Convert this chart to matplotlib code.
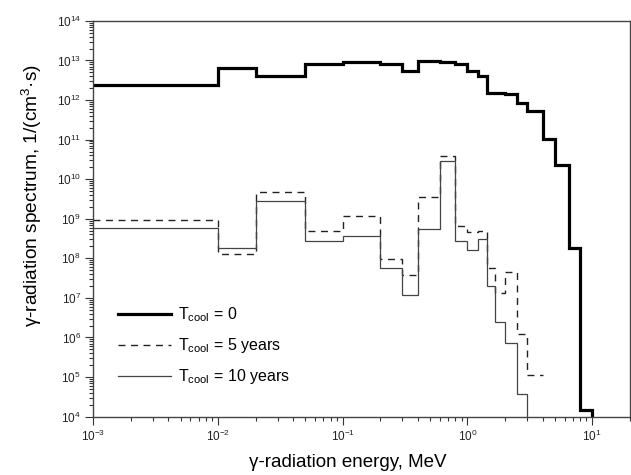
import matplotlib.pyplot as plt
from matplotlib.ticker import LogLocator, NullFormatter

plt.rcParams['font.family'] = ['Liberation Sans', 'DejaVu Sans']
plt.rcParams['mathtext.fontset'] = 'custom'
plt.rcParams['mathtext.rm'] = 'Liberation Sans'
plt.rcParams['mathtext.it'] = 'Liberation Sans:italic'

# energy group boundaries, MeV
edges_t0 = [0.001, 0.01, 0.02, 0.05, 0.1, 0.2, 0.3, 0.4, 0.6, 0.8, 1.0,
            1.22, 1.44, 1.66, 2.0, 2.5, 3.0, 4.0, 5.0, 6.5, 8.0, 10.0]
edges_t5 = edges_t0[:18]
edges_t10 = edges_t0[:17]

# gamma spectrum, 1/(cm3 s)
spec_t0 = [2.4e12, 6.5e12, 4.1e12, 8.2e12, 9.4e12, 8.2e12, 5.5e12, 9.9e12,
           9.2e12, 8.0e12, 5.5e12, 4.1e12, 1.55e12, 1.5e12, 1.45e12, 8.5e11,
           5.3e11, 1.05e11, 2.3e10, 1.8e8, 1.5e4]
spec_t5 = [9.5e8, 1.3e8, 4.7e9, 4.9e8, 1.17e9, 9.6e7, 3.8e7, 3.6e9, 3.9e10,
           6.6e8, 4.6e8, 5.0e8, 5.6e7, 1.3e7, 4.5e7, 1.2e6, 1.1e5]
spec_t10 = [6.0e8, 1.8e8, 2.8e9, 2.8e8, 3.7e8, 5.6e7, 1.2e7, 5.4e8, 2.8e10,
            2.8e8, 1.6e8, 3.0e8, 2.0e7, 2.5e6, 7.4e5, 3.7e4]

labels = [r'T$_{\mathregular{cool}}$ = 0',
          r'T$_{\mathregular{cool}}$ = 5 years',
          r'T$_{\mathregular{cool}}$ = 10 years']

# value below the axis floor, so the last step falls off the plot
floor = 1e2

fig = plt.figure(figsize=(6.31, 4.75), dpi=100)
ax = fig.add_axes([0.148, 0.123, 0.85, 0.833])

ax.stairs(spec_t0 + [floor], edges_t0 + [20], baseline=None, color='black',
          lw=2.3, label=labels[0])
ax.stairs(spec_t5, edges_t5, baseline=None, color='#222222', lw=1.0,
          ls=(0, (5, 4)), label=labels[1])
ax.stairs(spec_t10 + [floor], edges_t10 + [4.0], baseline=None, color='#444444',
          lw=0.9, label=labels[2])

ax.set_xscale('log')
ax.set_yscale('log')
ax.set_xlim(1e-3, 20)
ax.set_ylim(1e4, 1e14)

ax.xaxis.set_major_locator(LogLocator(base=10, numticks=20))
ax.xaxis.set_minor_locator(LogLocator(base=10, subs=range(2, 10), numticks=20))
ax.xaxis.set_minor_formatter(NullFormatter())
ax.yaxis.set_major_locator(LogLocator(base=10, numticks=20))
ax.yaxis.set_minor_locator(LogLocator(base=10, subs=range(2, 10), numticks=20))
ax.yaxis.set_minor_formatter(NullFormatter())

ax.tick_params(which='both', direction='out', top=False, right=False,
               colors='#333333', labelcolor='#222222', labelsize=8.5, width=0.8)
ax.tick_params(which='major', length=6, pad=3)
ax.tick_params(which='minor', length=3)
for s in ax.spines.values():
    s.set_color('#444444')
    s.set_linewidth(1.0)

ax.set_xlabel('γ-radiation energy, MeV', fontsize=13.5)
ax.set_ylabel('γ-radiation spectrum, 1/(cm$^3$·s)', fontsize=13.8)
ax.xaxis.set_label_coords(0.475, -0.095)
ax.yaxis.set_label_coords(-0.093, 0.56)

ax.legend(loc='lower left', bbox_to_anchor=(0.02, 0.04), frameon=False,
          fontsize=11.5, handlelength=3.3, labelspacing=0.75, handletextpad=0.4)

fig.savefig('out.png', dpi=100)
